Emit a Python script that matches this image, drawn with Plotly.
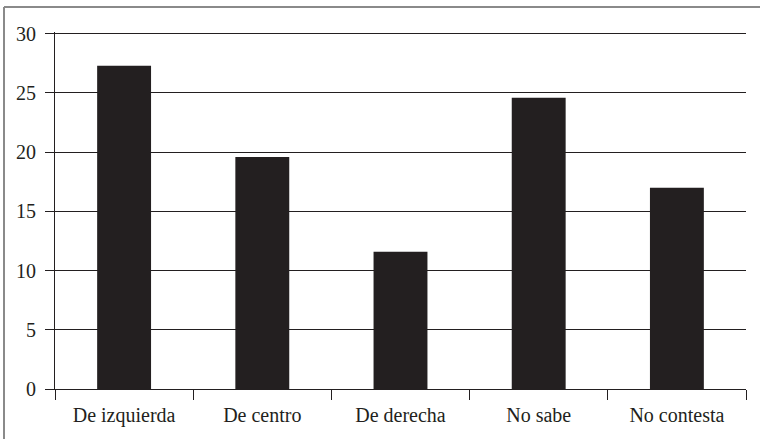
import plotly.graph_objects as go

categories = ["De izquierda", "De centro", "De derecha", "No sabe", "No contesta"]
values = [27.3, 19.6, 11.6, 24.6, 17.0]
y_ticks = [0, 5, 10, 15, 20, 25, 30]

fig = go.Figure(go.Bar(x=categories, y=values, marker=dict(color="#231f20", line=dict(width=0)),
                       width=0.39))

font = dict(family="Liberation Serif", size=20, color="#231f20")
fig.update_layout(
    width=760, height=439,
    margin=dict(l=55, r=14, t=32, b=50),
    paper_bgcolor="white", plot_bgcolor="white",
    showlegend=False,
    font=font,
    xaxis=dict(type="category", tickson="boundaries", ticks="outside", ticklen=10,
               tickcolor="#231f20", showline=True, linecolor="#231f20", linewidth=1,
               showgrid=False, tickfont=font, automargin=False, ticklabelstandoff=8),
    yaxis=dict(range=[0, 30.15], tickvals=y_ticks, ticks="outside", ticklen=9,
               tickcolor="#231f20", showline=True, linecolor="#231f20", linewidth=1,
               showgrid=True, gridcolor="#231f20", gridwidth=1, zeroline=False,
               tickfont=font, automargin=False, ticklabelstandoff=5),
    shapes=[
        dict(type="line", xref="paper", yref="paper", x0=-0.0738, x1=-0.0738, y0=-0.2, y1=1.07,
             line=dict(color="#8a8a8a", width=2)),
        dict(type="line", xref="paper", yref="paper", x0=-0.0738, x1=1.05, y0=1.07, y1=1.07,
             line=dict(color="#8a8a8a", width=2)),
    ],
)
fig.write_html("out.html", config={"displayModeBar": False},
               post_script="document.body.style.margin='0';")
